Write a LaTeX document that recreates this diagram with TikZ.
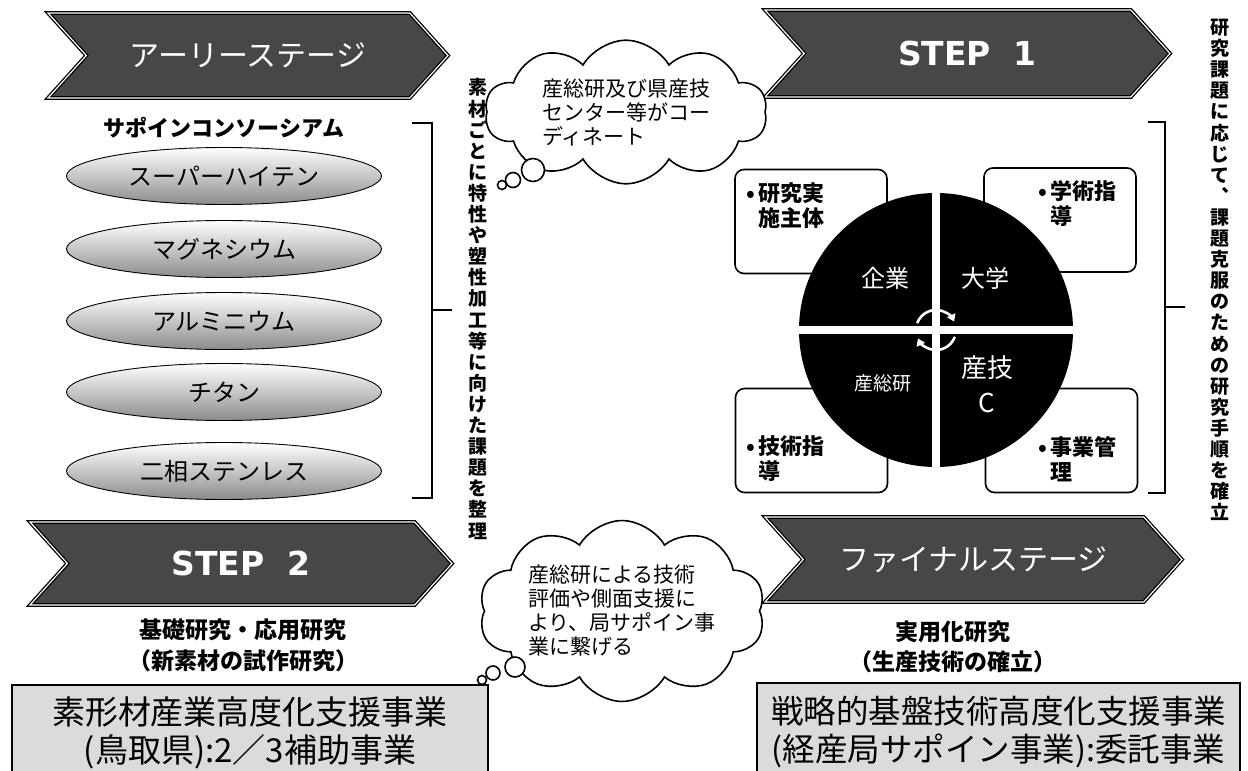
\documentclass[tikz,border=0pt]{standalone}
\usepackage{fontspec}
\setmainfont{Noto Sans CJK JP}
\newfontfamily\stepfont{DejaVu Sans}
\usepackage{tikz}
\usetikzlibrary{arrows.meta,positioning,shapes.geometric,shapes.symbols}
\newcommand{\fsz}[2]{\fontsize{#1}{#2}\selectfont}

\begin{document}
\begin{tikzpicture}[x=1pt,y=-1pt,
  banner/.style={signal,signal from=west,signal to=east,signal pointer angle=96,
    fill=black!72,draw=black,double=white,double distance=1.2pt,line width=1.3pt,
    text=white,inner sep=0pt},
  metal/.style={ellipse,draw,line width=0.9pt,top color=white,middle color=black!12,
    bottom color=black!45,minimum width=315pt,minimum height=57pt,inner sep=0pt,
    font=\fsz{24}{24}},
  bubble/.style={cloud,cloud puffs=10,cloud puff arc=120,cloud ignores aspect,draw,
    line width=1.6pt,fill=white,align=left,font=\fsz{21}{24}},
  puff/.style={circle,draw,line width=1.6pt,fill=white,inner sep=0pt},
  rolebox/.style={draw,rounded corners=9pt,line width=1.6pt,fill=white,
    minimum width=152pt,minimum height=104pt},
  roletext/.style={anchor=west,align=left,inner sep=0pt,font=\bfseries\fsz{22}{25}},
  quad/.style={text=white,align=center},
  gap/.style={draw=white,line width=8pt},
  cyc/.style={draw=white,line width=2.6pt,-{Triangle[length=7pt,width=9pt]}},
  fundbox/.style={draw,line width=1.3pt,fill=black!14,align=center,font=\fsz{33}{38}},
  sub/.style={font=\bfseries\fsz{23}{23}},
  vtext/.style={align=center,inner sep=0pt,font=\bfseries\fsz{19}{21.1}},
  brace/.style={draw,line width=1.2pt}
]
\useasboundingbox (0,0) rectangle (1248,771);

% stage banners
\node[banner,minimum width=400pt,minimum height=85pt,font=\fsz{30}{30}] (early) at (248,55.5) {アーリーステージ};
\node[banner,minimum width=405pt,minimum height=87pt,font=\stepfont\bfseries\fsz{33}{33}] (step1) at (967.5,53.5) {STEP\ \ 1};
\node[banner,minimum width=422pt,minimum height=83pt,font=\stepfont\bfseries\fsz{33}{33}] (step2) at (241,563.5) {STEP\ \ 2};
\node[banner,minimum width=417pt,minimum height=85pt,font=\fsz{30}{30}] (final) at (973.5,559.5) {ファイナルステージ};

% consortium materials
\node[font=\bfseries\fsz{22}{22}] (consort) at (224,128) {サポインコンソーシアム};
\node[metal] (hiten) at (224,176) {スーパーハイテン};
\node[metal] (magnes) at (224,249) {マグネシウム};
\node[metal] (alumi) at (224,321) {アルミニウム};
\node[metal] (titan) at (224,392) {チタン};
\node[metal] (duplex) at (224,471) {二相ステンレス};
\draw[brace] (412,123) -| (432,498) -- (412,498);
\draw[brace] (432,310) -- (452,310);
\node[vtext] (leftnote) at (478,309) {素\\材\\ご\\と\\に\\特\\性\\や\\塑\\性\\加\\工\\等\\に\\向\\け\\た\\課\\題\\を\\整\\理};

% thought bubbles
\node[bubble,minimum width=282pt,minimum height=123pt] (coord) at (626,112) {産総研及び県産技\\センター等がコー\\ディネート};
\node[puff,minimum size=23pt] (coorda) at (533,170) {};
\node[puff,minimum size=15pt] (coordb) at (513,180) {};
\node[puff,minimum size=9pt] (coordc) at (502,185) {};
\node[bubble,minimum width=270pt,minimum height=142pt] (support) at (622,611) {産総研による技術\\評価や側面支援に\\より、局サポイン事\\業に繋げる};
\node[puff,minimum size=20pt] (supporta) at (515,667) {};
\node[puff,minimum size=14pt] (supportb) at (493,673) {};
\node[puff,minimum size=9pt] (supportc) at (482,680) {};

% partners around the circle
\node[rolebox] (firmbox) at (811,221.5) {};
\node[rolebox] (univbox) at (1060,220) {};
\node[rolebox] (aistbox) at (811.5,440.5) {};
\node[rolebox] (centbox) at (1061.5,440.5) {};
\node[roletext] (firmrole) at (746,206) {•\,研究実\\\phantom{•\,}施主体};
\node[roletext] (univrole) at (1038,204) {•\,学術指\\\phantom{•\,}導};
\node[roletext] (aistrole) at (746,459) {•\,技術指\\\phantom{•\,}導};
\node[roletext] (centrole) at (1038,459) {•\,事業管\\\phantom{•\,}理};
\node[circle,fill=black,minimum size=274pt,inner sep=0pt] (core) at (936,330) {};
\draw[gap] (core.north) -- (core.south);
\draw[gap] (core.west) -- (core.east);
\node[quad,font=\fsz{24}{24}] (firm) at (885,278) {企業};
\node[quad,font=\fsz{24}{24}] (univ) at (985,278) {大学};
\node[quad,font=\fsz{19}{19}] (aist) at (883,383) {産総研};
\node[quad,font=\fsz{26}{35}] (center) at (987,384) {産技\\C};
\draw[cyc] ([shift={(200:20)}]core.center) arc[start angle=200,end angle=335,radius=20];
\draw[cyc] ([shift={(20:20)}]core.center) arc[start angle=20,end angle=155,radius=20];
\draw[brace] (1148,122) -| (1165,493) -- (1148,493);
\draw[brace] (1165,307) -- (1185,307);
\node[vtext] (rightnote) at (1220,270) {研\\究\\課\\題\\に\\応\\じ\\て\\︑\\課\\題\\克\\服\\の\\た\\め\\の\\研\\究\\手\\順\\を\\確\\立};

% research phases and funding
\node[sub] (basic) at (243,630) {基礎研究・応用研究};
\node[sub] (trial) at (243,661) {（新素材の試作研究）};
\node[sub] (applied) at (953,632) {実用化研究};
\node[sub] (prod) at (953,662) {（生産技術の確立）};
\node[fundbox,minimum width=476pt,minimum height=95pt] (prefbox) at (250,732.5) {素形材産業高度化支援事業\\(鳥取県):2／3補助事業};
\node[fundbox,minimum width=483pt,minimum height=97pt,font=\fsz{32.5}{38}] (metibox) at (998.5,731.5) {戦略的基盤技術高度化支援事業\\(経産局サポイン事業):委託事業};
\end{tikzpicture}
\end{document}
